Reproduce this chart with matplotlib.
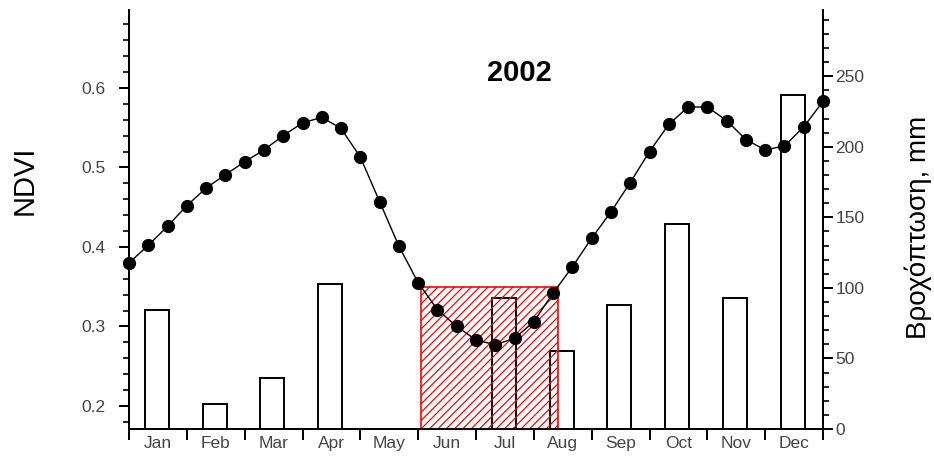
import matplotlib
matplotlib.use("Agg")
import matplotlib.pyplot as plt
from matplotlib.ticker import MultipleLocator, FixedLocator, NullFormatter

months = ["Jan", "Feb", "Mar", "Apr", "May", "Jun",
          "Jul", "Aug", "Sep", "Oct", "Nov", "Dec"]

# dekadal NDVI, 3 values per month, from Jan 1 to Dec 31 (37 points)
ndvi = [0.380, 0.402, 0.426, 0.452, 0.474, 0.491, 0.507, 0.522, 0.540,
        0.556, 0.563, 0.549, 0.513, 0.457, 0.401, 0.355, 0.321, 0.300,
        0.283, 0.277, 0.285, 0.306, 0.342, 0.375, 0.411, 0.444, 0.481,
        0.520, 0.554, 0.576, 0.576, 0.559, 0.535, 0.522, 0.527, 0.551,
        0.583]

# monthly rainfall, mm
rain = [84, 18, 36, 103, 0, 0, 93, 55, 88, 145, 93, 237]

# dry period (month units) and its NDVI level
dry_start = 5.05
dry_end = 7.41
dry_top = 0.35

plt.rcParams["font.family"] = ["Liberation Sans", "DejaVu Sans"]
plt.rcParams["hatch.linewidth"] = 0.9

fig = plt.figure(figsize=(9.34, 4.58), dpi=100)
ax = fig.add_axes([129 / 934, 29 / 458, 694 / 934, 419 / 458])
ax2 = ax.twinx()
ax.set_zorder(ax2.get_zorder() + 1)
ax.patch.set_visible(False)

# rainfall bars on the right axis
bx = [i + 0.48 for i in range(len(rain))]
ax2.bar(bx, rain, width=0.415, fill=False, edgecolor="black", linewidth=1.4)
ax2.set_ylim(0, 297)

# hatched dry period
ax.bar(dry_start, dry_top - 0.1, bottom=0.1, width=dry_end - dry_start,
       align="edge", facecolor="none", edgecolor="red", hatch="////",
       linewidth=1.2, zorder=1)

# NDVI curve
nx = [i / 3 for i in range(len(ndvi))]
ax.plot(nx, ndvi, color="black", linewidth=1.0, marker="o", markersize=8.5,
        zorder=3, clip_on=False)

ax.set_xlim(0, 12)
ax.set_ylim(0.171, 0.698)

ax.spines["top"].set_visible(False)
ax2.spines["top"].set_visible(False)
for a in (ax, ax2):
    for s in a.spines.values():
        s.set_linewidth(1.4)

tick_col = "#444444"
ax.xaxis.set_major_locator(FixedLocator(range(13)))
ax.xaxis.set_major_formatter(NullFormatter())
ax.xaxis.set_minor_locator(FixedLocator([i + 0.5 for i in range(12)]))
ax.set_xticklabels(months, minor=True)
ax.tick_params(axis="x", which="major", length=8, width=1.4, direction="out")
ax.tick_params(axis="x", which="minor", length=0, pad=5,
               labelsize=12.5, labelcolor=tick_col)

ax.yaxis.set_major_locator(MultipleLocator(0.1))
ax.yaxis.set_minor_locator(MultipleLocator(0.02))
ax.yaxis.set_major_formatter(plt.FuncFormatter(lambda v, p: f"{v:.1f}"))
ax.tick_params(axis="y", which="major", length=7, width=1.4,
               labelsize=12.5, labelcolor=tick_col, pad=10)
ax.tick_params(axis="y", which="minor", length=4, width=1.2)

ax2.yaxis.set_major_locator(MultipleLocator(50))
ax2.yaxis.set_minor_locator(MultipleLocator(10))
ax2.tick_params(axis="y", which="major", length=7, width=1.4,
                labelsize=12.5, labelcolor=tick_col, pad=2)
ax2.tick_params(axis="y", which="minor", length=4, width=1.2)

ax.text(0.563, 0.85, "2002", transform=ax.transAxes, ha="center",
        va="center", fontsize=21, fontweight="bold")

fig.text(25 / 934, 1 - 180 / 458, "NDVI", rotation=90, ha="center",
         va="center", fontsize=21)
fig.text(918 / 934, 1 - 227 / 458, "Βροχόπτωση, mm", rotation=90,
         ha="center", va="center", fontsize=20)

fig.savefig("out.png", dpi=100)
